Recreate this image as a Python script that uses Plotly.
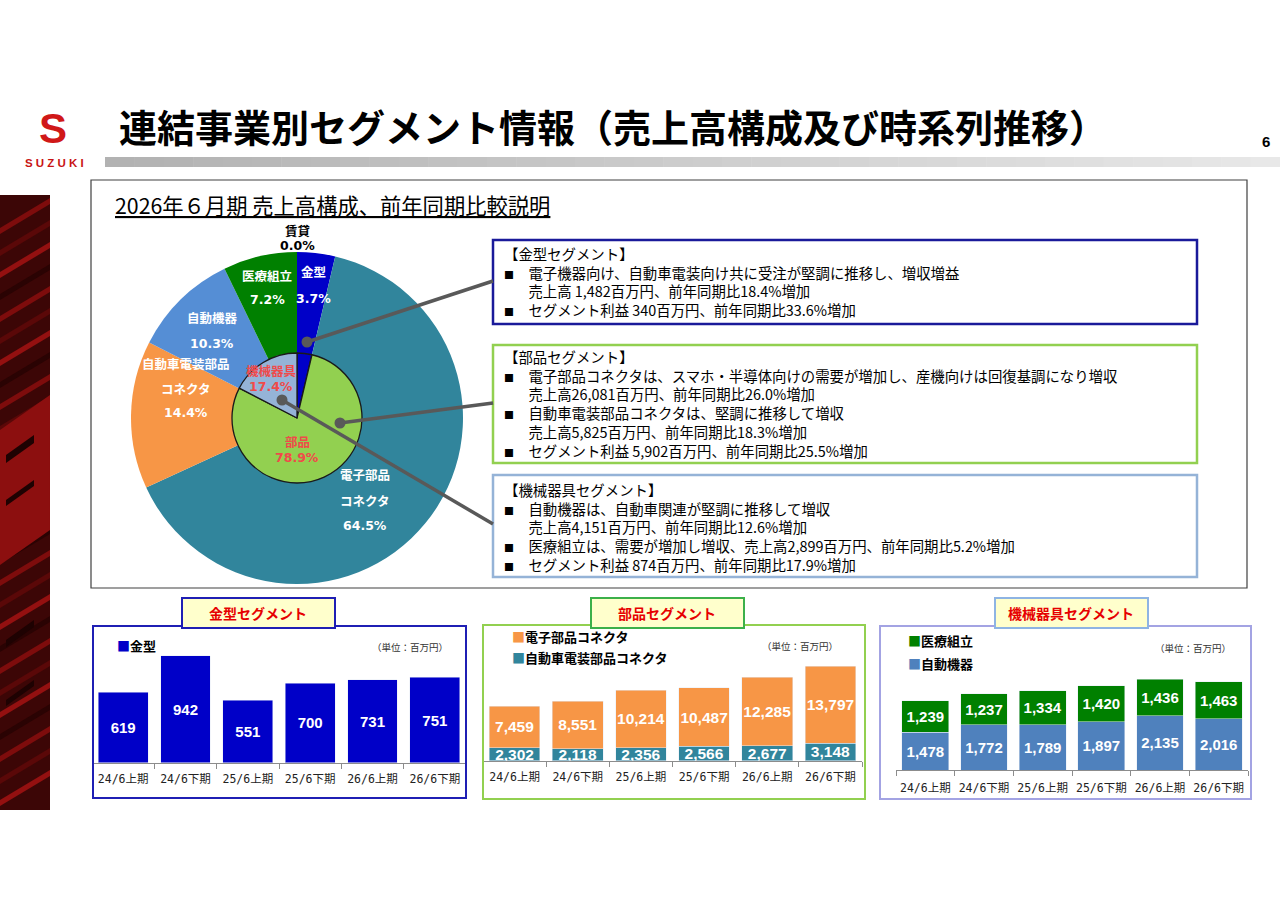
import plotly.graph_objects as go

W, H = 1280, 904


def X(x):
    return x / W


def Y(y):
    return 1 - y / H


# ---------------- data ----------------
periods = ["24/6上期", "24/6下期", "25/6上期", "25/6下期", "26/6上期", "26/6下期"]

kanagata_name = "金型"
kanagata = [619, 942, 551, 700, 731, 751]

denshi_name = "電子部品コネクタ"
denshi = [7459, 8551, 10214, 10487, 12285, 13797]
jidosha_name = "自動車電装部品コネクタ"
jidosha = [2302, 2118, 2356, 2566, 2677, 3148]

iryo_name = "医療組立"
iryo = [1239, 1237, 1334, 1420, 1436, 1463]
jidoki_name = "自動機器"
jidoki = [1478, 1772, 1789, 1897, 2135, 2016]

outer_labels = ["金型", "電子部品\nコネクタ", "自動車電装部品\nコネクタ", "自動機器", "医療組立", "賃貸"]
outer_share = [3.7, 64.5, 14.4, 10.3, 7.2, 0.0]
inner_labels = ["金型", "部品", "機械器具"]
inner_share = [3.7, 78.9, 17.4]

title_text = "連結事業別セグメント情報（売上高構成及び時系列推移）"
subtitle_text = "2026年６月期 売上高構成、前年同期比較説明"
unit_text = "（単位：百万円）"
chart_titles = ["金型セグメント", "部品セグメント", "機械器具セグメント"]

box1_lines = [
    ("", "【金型セグメント】"),
    ("■", "電子機器向け、自動車電装向け共に受注が堅調に推移し、増収増益"),
    ("", "売上高 1,482百万円、前年同期比18.4%増加"),
    ("■", "セグメント利益 340百万円、前年同期比33.6%増加"),
]
box2_lines = [
    ("", "【部品セグメント】"),
    ("■", "電子部品コネクタは、スマホ・半導体向けの需要が増加し、産機向けは回復基調になり増収"),
    ("", "売上高26,081百万円、前年同期比26.0%増加"),
    ("■", "自動車電装部品コネクタは、堅調に推移して増収"),
    ("", "売上高5,825百万円、前年同期比18.3%増加"),
    ("■", "セグメント利益 5,902百万円、前年同期比25.5%増加"),
]
box3_lines = [
    ("", "【機械器具セグメント】"),
    ("■", "自動機器は、自動車関連が堅調に推移して増収"),
    ("", "売上高4,151百万円、前年同期比12.6%増加"),
    ("■", "医療組立は、需要が増加し増収、売上高2,899百万円、前年同期比5.2%増加"),
    ("■", "セグメント利益 874百万円、前年同期比17.9%増加"),
]

# ---------------- styles ----------------
JP = "Noto Sans CJK JP"
NUM = "DejaVu Sans, Noto Sans CJK JP"
BARNUM = "Liberation Sans, Arial, sans-serif"
TICK = "DejaVu Sans Mono, Noto Sans CJK JP"

C_KANAGATA = "#0000c8"
C_DENSHI = "#31859c"
C_JIDOSHA = "#f79646"
C_JIDOKI_PIE = "#558ed5"
C_JIDOKI = "#4f81bd"
C_IRYO = "#008000"
C_BUHIN = "#92d050"
C_KIKAI = "#95b3d7"

fig = go.Figure()

# ---------------- pies ----------------
cx, cy, R_OUT, R_IN = 297, 418, 166, 65
fig.add_trace(go.Pie(
    values=outer_share, labels=[l.replace("\n", "") for l in outer_labels],
    sort=False, direction="clockwise", rotation=0,
    marker=dict(colors=[C_KANAGATA, C_DENSHI, C_JIDOSHA, C_JIDOKI_PIE, C_IRYO, "#999999"],
                line=dict(width=0)),
    textinfo="none", hoverinfo="skip", showlegend=False,
    domain=dict(x=[X(cx - R_OUT), X(cx + R_OUT)], y=[Y(cy + R_OUT), Y(cy - R_OUT)]),
))
fig.add_trace(go.Pie(
    values=inner_share, labels=["金型 ", "部品", "機械器具"],
    sort=False, direction="clockwise", rotation=0,
    marker=dict(colors=[C_KANAGATA, C_BUHIN, C_KIKAI], line=dict(width=1.3, color="#1a1a1a")),
    textinfo="none", hoverinfo="skip", showlegend=False,
    domain=dict(x=[X(cx - R_IN), X(cx + R_IN)], y=[Y(cy + R_IN), Y(cy - R_IN)]),
))

# ---------------- bars ----------------
bar_text = dict(texttemplate="<b>%{y:,}</b>", textposition="inside", insidetextanchor="middle",
                constraintext="none", textangle=0, hoverinfo="skip", showlegend=False)

fig.add_trace(go.Bar(x=periods, y=kanagata, name=kanagata_name, marker_color=C_KANAGATA,
                     xaxis="x", yaxis="y",
                     textfont=dict(family=BARNUM, size=15, color="white"), **bar_text))

fig.add_trace(go.Bar(x=periods, y=jidosha, name=jidosha_name, marker_color=C_DENSHI,
                     xaxis="x2", yaxis="y2",
                     textfont=dict(family=BARNUM, size=15.5, color="white"), **bar_text))
fig.add_trace(go.Bar(x=periods, y=denshi, name=denshi_name, marker_color=C_JIDOSHA,
                     xaxis="x2", yaxis="y2",
                     textfont=dict(family=BARNUM, size=15.5, color="white"), **bar_text))

fig.add_trace(go.Bar(x=periods, y=jidoki, name=jidoki_name, marker_color=C_JIDOKI,
                     xaxis="x3", yaxis="y3",
                     textfont=dict(family=BARNUM, size=15, color="white"), **bar_text))
fig.add_trace(go.Bar(x=periods, y=iryo, name=iryo_name, marker_color=C_IRYO,
                     xaxis="x3", yaxis="y3",
                     textfont=dict(family=BARNUM, size=15, color="white"), **bar_text))


def xax(domain, anchor, standoff):
    return dict(domain=[X(domain[0]), X(domain[1])], anchor=anchor, type="category",
                showline=True, linecolor="#8c8c8c", linewidth=1, ticks="outside",
                tickson="boundaries", ticklen=5, tickcolor="#8c8c8c", showgrid=False,
                ticklabelstandoff=standoff, tickangle=0,
                tickfont=dict(family=TICK, size=11.5, color="#222222"), fixedrange=True)


def yax(top, base, rng, anchor):
    return dict(domain=[Y(base), Y(top)], anchor=anchor, range=rng, visible=False,
                showgrid=False, fixedrange=True)


# ---------------- shapes ----------------
shapes = []


def rect(x0, y0, x1, y1, line_color=None, width=1, fill=None, layer="above"):
    shapes.append(dict(type="rect", xref="paper", yref="paper",
                       x0=X(x0), x1=X(x1), y0=Y(y1), y1=Y(y0),
                       line=dict(color=line_color or "rgba(0,0,0,0)", width=width if line_color else 0),
                       fillcolor=fill or "rgba(0,0,0,0)", layer=layer))


def line(x0, y0, x1, y1, color, width):
    shapes.append(dict(type="line", xref="paper", yref="paper",
                       x0=X(x0), x1=X(x1), y0=Y(y0), y1=Y(y1),
                       line=dict(color=color, width=width)))


def dot(x, y, r, color):
    shapes.append(dict(type="circle", xref="paper", yref="paper",
                       x0=X(x - r), x1=X(x + r), y0=Y(y + r), y1=Y(y - r),
                       line=dict(width=0), fillcolor=color))


def poly(points, fill):
    d = "M " + " L ".join(f"{X(px):.5f},{Y(py):.5f}" for px, py in points) + " Z"
    shapes.append(dict(type="path", xref="paper", yref="paper", path=d,
                       line=dict(width=0), fillcolor=fill, layer="below"))


# left decorative strip (dark red circuit-like texture)
rect(0, 195, 50, 810, fill="#3c0606", layer="below")
for k, y0 in enumerate(range(228, 806, 22)):
    col = ["#7e0c0c", "#5a0808", "#941010", "#2a0303"][k % 4]
    poly([(0, y0), (50, y0 - 30), (50, y0 - 24), (0, y0 + 6)], col)
poly([(0, 430), (50, 395), (50, 530), (0, 565)], "#8c0f0f")
for (a, b) in [(455, 8), (500, 6), (640, 7), (700, 6)]:
    poly([(6, a), (34, a - 20), (34, a - 20 + b), (6, a + b)], "#1e0202")

# header gradient bar
n = 40
for i in range(n):
    x0 = 105 + (1280 - 105) * i / n
    x1 = 105 + (1280 - 105) * (i + 1) / n + 0.5
    g = int(178 + (232 - 178) * i / (n - 1))
    rect(x0, 157, x1, 167, fill=f"rgb({g},{g},{g})", layer="below")

# main frame and text boxes
rect(91, 180, 1247, 588, line_color="#404040", width=1.2)
rect(493, 240, 1197, 324, line_color="#1a1a9a", width=2.5)
rect(493, 345, 1197, 463, line_color="#92d050", width=2.5)
rect(493, 475, 1197, 577, line_color="#95b3d7", width=2.5)

# leader lines
for (sx, sy, ex, ey) in [(307, 342, 493, 281), (340, 423, 493, 403), (282, 400, 493, 524)]:
    line(sx, sy, ex, ey, "#595959", 3.5)
    dot(sx, sy, 5.5, "#595959")

# bottom chart frames + title boxes
rect(93, 626, 466, 798, line_color="#1f1fb4", width=2)
rect(483, 625, 865, 799, line_color="#92d050", width=2)
rect(880, 626, 1251, 799, line_color="#a3a3e3", width=2)
rect(182, 598, 335, 628, line_color="#1f1fb4", width=2, fill="#ffffcc")
rect(591, 598, 744, 628, line_color="#3cb04a", width=2, fill="#ffffcc")
rect(995, 598, 1148, 628, line_color="#8eb4e3", width=2, fill="#ffffcc")

# ---------------- annotations ----------------
annotations = []


def ann(text, x, y, size=12, color="black", bold=False, xanchor="center", family=JP,
        yanchor="middle", align="center"):
    annotations.append(dict(text=f"<b>{text}</b>" if bold else text, x=X(x), y=Y(y),
                            xref="paper", yref="paper", showarrow=False, xanchor=xanchor,
                            yanchor=yanchor, align=align, borderpad=0,
                            font=dict(size=size, color=color, family=family)))


# header
ann("S", 53, 128, size=42, color="#d01818", bold=True, family="Liberation Sans")
ann("S U Z U K I", 54, 163, size=11.5, color="#c81414", bold=True, family="Liberation Sans")
ann(title_text, 118, 125, size=38, bold=True, xanchor="left")
ann("6", 1266, 142, size=15, bold=True, family="Liberation Sans")
ann(f"<u>{subtitle_text}</u>", 114, 204, size=21.3, xanchor="left")

# pie labels
outer_pos = {0: (313, [271], 298), 1: (365, [474, 500], 525), 2: (186, [363, 388], 413),
             3: (212, [317], 343), 4: (267, [276], 300), 5: (297, [230], 245)}
for i, (lab, val) in enumerate(zip(outer_labels, outer_share)):
    x, ys, yp = outer_pos[i]
    col = "black" if val == 0 else "white"
    for part, yy in zip(lab.split("\n"), ys):
        ann(part, x, yy, size=12.5, color=col, bold=True)
    ann(f"{val:.1f}%", x, yp, size=12.5, color=col, bold=True, family=NUM)

inner_pos = {1: (297, [442], 458), 2: (271, [370], 386)}
for i, (lab, val) in enumerate(zip(inner_labels, inner_share)):
    if i not in inner_pos:
        continue
    x, ys, yp = inner_pos[i]
    ann(lab, x, ys[0], size=12.5, color="#f04a4a", bold=True)
    ann(f"{val:.1f}%", x, yp, size=12.5, color="#f04a4a", bold=True, family=NUM)

# text boxes (one annotation per box, 1.3 line spacing)
BUL = "<span style='font-size:10px'>■</span>　"
IND = "<span style='font-size:10px'>　</span>　"
for lines_, ytop in [(box1_lines, 242), (box2_lines, 345), (box3_lines, 478)]:
    rows = []
    for bullet, txt in lines_:
        if txt.startswith("【"):
            rows.append(txt)
        elif bullet:
            rows.append(BUL + txt)
        else:
            rows.append(IND + txt)
    ann("<br>".join(rows), 503, ytop, size=14.4, xanchor="left", yanchor="top", align="left")

# chart titles
for t, cxx in zip(chart_titles, [258, 667, 1071]):
    ann(t, cxx, 613, size=14, color="#e60000", bold=True)

# units
for ux, uy in [(410, 647), (800, 646), (1193, 648)]:
    ann(unit_text, ux, uy, size=9.5, color="#333333")


# legends
def legend_item(color, name, x, y):
    ann(f"<span style='color:{color}'>■</span><b>{name}</b>", x, y, size=13, xanchor="left")


legend_item(C_KANAGATA, kanagata_name, 116, 645)
legend_item(C_JIDOSHA, denshi_name, 511, 636)
legend_item(C_DENSHI, jidosha_name, 511, 657)
legend_item(C_IRYO, iryo_name, 907, 640)
legend_item(C_JIDOKI, jidoki_name, 907, 663)

fig.update_layout(
    width=W, height=H, margin=dict(l=0, r=0, t=0, b=0, pad=0),
    paper_bgcolor="white", plot_bgcolor="white", showlegend=False,
    barmode="stack", bargap=0.2,
    xaxis=xax((92, 466), "y", 5), yaxis=yax(632, 762.7, [0, 1150], "x"),
    xaxis2=xax((483, 862), "y2", 5), yaxis2=yax(632, 760.7, [0, 23030], "x2"),
    xaxis3=xax((896, 1248), "y3", 7), yaxis3=yax(632, 770, [0, 5433], "x3"),
    shapes=shapes, annotations=annotations,
    font=dict(family=JP),
    modebar=dict(bgcolor="rgba(0,0,0,0)", color="rgba(0,0,0,0)", activecolor="rgba(0,0,0,0)"),
)

fig.write_html(
    "out.html",
    config={"displayModeBar": False, "displaylogo": False},
    post_script=("document.documentElement.style.overflow='hidden';"
                 "document.body.style.margin='0';"
                 "document.body.style.overflow='hidden';"),
)
